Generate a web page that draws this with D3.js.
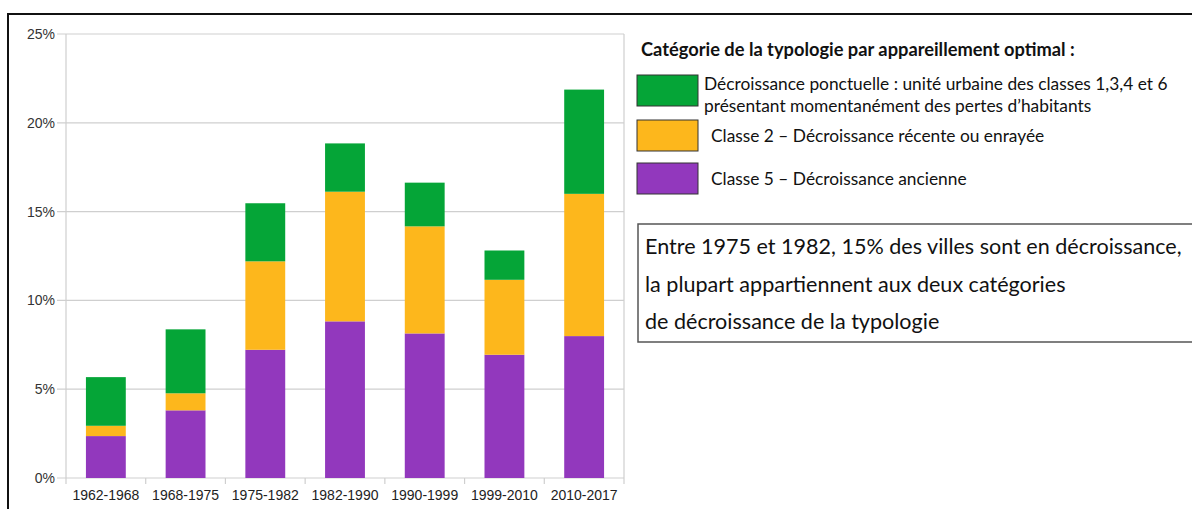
<!DOCTYPE html>
<html>
<head>
<meta charset="utf-8">
<script src="https://cdn.jsdelivr.net/npm/d3@7"></script>
<style>
  body { margin: 0; background: #fff; }
  svg { display: block; }
</style>
</head>
<body>
<script>
    //Width and height
    var w = 1192;
    var h = 509;

    //Data
    var periods = ["1962-1968", "1968-1975", "1975-1982", "1982-1990", "1990-1999", "1999-2010", "2010-2017"];
    var classe5 = [2.36, 3.81, 7.22, 8.82, 8.14, 6.94, 7.99];
    var classe2 = [0.58, 0.96, 4.98, 7.30, 6.03, 4.22, 8.01];
    var ponctuelle = [2.74, 3.60, 3.27, 2.72, 2.46, 1.65, 5.87];
    var yTicks = [0, 5, 10, 15, 20, 25];

    var legendTitle = "Catégorie de la typologie par appareillement optimal :";
    var legendItems = [
        { key: "ponctuelle", lines: ["Décroissance ponctuelle : unité urbaine des classes 1,3,4 et 6", "présentant momentanément des pertes d\u2019habitants"] },
        { key: "classe2", lines: ["Classe 2 \u2013 Décroissance récente ou enrayée"] },
        { key: "classe5", lines: ["Classe 5 \u2013 Décroissance ancienne"] }
    ];
    var note = ["Entre 1975 et 1982, 15% des villes sont en décroissance,",
                "la plupart appartiennent aux deux catégories",
                "de décroissance de la typologie"];

    var colors = { classe5: "#9238bd", classe2: "#fdb71c", ponctuelle: "#05a537" };

    var rows = periods.map(function(p, i) {
        return { period: p, classe5: classe5[i], classe2: classe2[i], ponctuelle: ponctuelle[i] };
    });

    //Create SVG element
    var svg = d3.select("body")
                .append("svg")
                .attr("width", w)
                .attr("height", h);

    //outer frame
    svg.append("rect")
       .attr("x", 8).attr("y", 14)
       .attr("width", 1200).attr("height", 520)
       .attr("fill", "none")
       .attr("stroke", "#111")
       .attr("stroke-width", 2);

    var plot = { left: 66, right: 624, top: 34, bottom: 478 };

    var x = d3.scaleBand()
              .domain(periods)
              .range([plot.left, plot.right])
              .paddingInner(0.5)
              .paddingOuter(0.25);

    var y = d3.scaleLinear()
              .domain([0, 25])
              .range([plot.bottom, plot.top]);

    //grid lines
    svg.append("g")
       .selectAll("line")
       .data(yTicks)
       .enter()
       .append("line")
       .attr("x1", plot.left - 9)
       .attr("x2", plot.right)
       .attr("y1", function(d) { return y(d); })
       .attr("y2", function(d) { return y(d); })
       .attr("stroke", "#cfcfcf")
       .attr("stroke-width", 1.2);

    //plot frame sides
    svg.append("line")
       .attr("x1", plot.left).attr("x2", plot.left)
       .attr("y1", plot.top).attr("y2", plot.bottom + 6)
       .attr("stroke", "#cfcfcf").attr("stroke-width", 1.2);
    svg.append("line")
       .attr("x1", plot.right).attr("x2", plot.right)
       .attr("y1", plot.top).attr("y2", plot.bottom + 6)
       .attr("stroke", "#cfcfcf").attr("stroke-width", 1.2);

    //category boundary ticks
    svg.append("g")
       .selectAll("line")
       .data(periods.slice(1))
       .enter()
       .append("line")
       .attr("x1", function(d) { return x(d) - x.step() * x.paddingInner() / 2; })
       .attr("x2", function(d) { return x(d) - x.step() * x.paddingInner() / 2; })
       .attr("y1", plot.bottom)
       .attr("y2", plot.bottom + 6)
       .attr("stroke", "#cfcfcf").attr("stroke-width", 1.2);

    //y axis labels
    var yAxis = d3.axisLeft(y)
                  .tickValues(yTicks)
                  .tickFormat(function(d) { return d + "%"; })
                  .tickSize(0)
                  .tickPadding(11);
    var gy = svg.append("g")
                .attr("transform", "translate(" + plot.left + ",0)")
                .call(yAxis);
    gy.select(".domain").remove();
    gy.selectAll("text")
      .attr("font-family", "Liberation Sans, Arial, sans-serif")
      .attr("font-size", 14)
      .attr("fill", "#333");

    //x axis labels
    var xAxis = d3.axisBottom(x).tickSize(0).tickPadding(12);
    var gx = svg.append("g")
                .attr("transform", "translate(0," + plot.bottom + ")")
                .call(xAxis);
    gx.select(".domain").remove();
    gx.selectAll("text")
      .attr("font-family", "Liberation Sans, Arial, sans-serif")
      .attr("font-size", 14)
      .attr("fill", "#222");

    //stacked bars
    var stack = d3.stack().keys(["classe5", "classe2", "ponctuelle"]);
    var series = stack(rows);

    svg.append("g")
       .selectAll("g")
       .data(series)
       .enter()
       .append("g")
       .attr("fill", function(d) { return colors[d.key]; })
       .selectAll("rect")
       .data(function(d) { return d; })
       .enter()
       .append("rect")
       .attr("x", function(d) { return x(d.data.period); })
       .attr("width", x.bandwidth())
       .attr("y", function(d) { return y(d[1]); })
       .attr("height", function(d) { return y(d[0]) - y(d[1]); });

    //fit a text element to a target width
    function fit(sel, target) {
        var base = +sel.attr("font-size");
        var len = sel.node().getComputedTextLength();
        var size = base * target / len;
        sel.attr("font-size", size);
        return size;
    }

    var sans = "Lato, 'Open Sans', sans-serif";

    //legend
    var title = svg.append("text")
       .attr("x", 641).attr("y", 56)
       .attr("font-family", sans)
       .attr("font-weight", "bold")
       .attr("font-size", 16)
       .attr("fill", "#111")
       .text(legendTitle);
    fit(title, 434);

    var swatchY = [75, 120, 163];
    var textStart = [704, 711, 711];
    var firstLine = svg.append("text")
       .attr("font-family", sans).attr("font-size", 16)
       .text(legendItems[0].lines[0]);
    var legendSize = fit(firstLine, 464);
    firstLine.remove();

    legendItems.forEach(function(item, i) {
        svg.append("rect")
           .attr("x", 637).attr("y", swatchY[i])
           .attr("width", 61).attr("height", 31)
           .attr("fill", colors[item.key])
           .attr("stroke", "#333")
           .attr("stroke-width", 1);
        var lineY = item.lines.length > 1 ? [90, 112] : [swatchY[i] + 22];
        item.lines.forEach(function(line, j) {
            svg.append("text")
               .attr("x", textStart[i])
               .attr("y", lineY[j])
               .attr("font-family", sans)
               .attr("font-size", legendSize)
               .attr("fill", "#111")
               .text(line);
        });
    });

    //annotation box
    svg.append("rect")
       .attr("x", 638).attr("y", 224)
       .attr("width", 600).attr("height", 118)
       .attr("fill", "#fff")
       .attr("stroke", "#555")
       .attr("stroke-width", 1.5);

    var noteFirst = svg.append("text")
       .attr("font-family", sans).attr("font-size", 20)
       .text(note[0]);
    var noteSize = fit(noteFirst, 537);
    noteFirst.remove();

    svg.append("g")
       .selectAll("text")
       .data(note)
       .enter()
       .append("text")
       .attr("x", 645)
       .attr("y", function(d, i) { return 254 + i * 37.5; })
       .attr("font-family", sans)
       .attr("font-size", noteSize)
       .attr("fill", "#111")
       .text(function(d) { return d; });
</script>
</body>
</html>
